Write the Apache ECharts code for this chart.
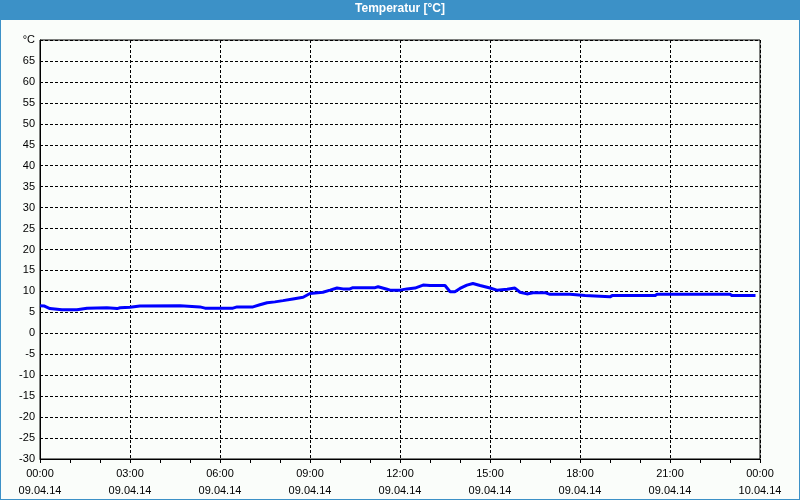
<!DOCTYPE html>
<html>
<head>
<meta charset="utf-8">
<script src="https://cdn.jsdelivr.net/npm/echarts@6/dist/echarts.min.js"></script>
<style>
html,body{margin:0;padding:0;background:#fafdfa;}
#c{width:800px;height:500px;box-sizing:border-box;border:1px solid #3c91c7;border-top:none;}
</style>
</head>
<body>
<div id="c"></div>
<script>
// hours since 09.04.14 00:00
var hours = [0.0,0.15,0.33,0.73,1.23,1.27,1.57,2.23,2.27,2.57,2.67,3.0,3.33,4.67,4.73,5.33,5.5,6.43,6.57,7.1,7.33,7.57,7.83,8.1,8.43,8.77,9.0,9.43,9.67,9.9,10.1,10.33,10.43,11.17,11.27,11.57,11.67,12.0,12.23,12.5,12.77,13.0,13.5,13.67,13.83,14.0,14.23,14.43,14.67,15.0,15.23,15.57,15.83,16.0,16.23,16.43,16.83,17.0,17.67,17.73,18.17,18.23,19.0,19.07,20.5,20.57,23.0,23.07,23.85];
var temps = [6.6,6.5,5.9,5.6,5.6,5.9,6.0,6.1,5.9,5.9,6.1,6.2,6.5,6.6,6.3,6.3,6.0,6.0,6.3,6.3,6.8,7.3,7.5,7.8,8.2,8.6,9.5,9.8,10.3,10.8,10.6,10.6,10.9,10.9,11.1,10.5,10.3,10.3,10.6,10.8,11.5,11.4,11.4,9.9,9.9,10.7,11.5,11.9,11.4,10.8,10.3,10.5,10.8,9.8,9.4,9.7,9.7,9.3,9.3,9.0,9.0,8.7,8.7,9.0,9.0,9.3,9.3,9.0,9.0];
var timeLabels = ["00:00","03:00","06:00","09:00","12:00","15:00","18:00","21:00","00:00"];
var dateLabels = ["09.04.14","09.04.14","09.04.14","09.04.14","09.04.14","09.04.14","09.04.14","09.04.14","10.04.14"];
var titleText = "Temperatur [°C]";
var unitLabel = "°C";

var data = hours.map(function(h,i){return [h,temps[i]];});
var chart = echarts.init(document.getElementById('c'));
var font = '"Liberation Sans", Arial, sans-serif';
chart.setOption({
  animation:false,
  backgroundColor:'#fafdfa',
  graphic:[{type:'rect',left:-1,top:0,shape:{width:800,height:20},style:{fill:'#3c91c7'},z:0}],
  title:{text:titleText,left:'center',top:3,padding:0,
    textStyle:{color:'#fff',fontSize:12,fontWeight:'bold',fontFamily:font}},
  grid:{left:39,right:39,top:40,bottom:38,show:true,borderColor:'#000',borderWidth:1,backgroundColor:'transparent'},
  xAxis:{type:'value',min:0,max:24,interval:3,
    axisLine:{show:true,onZero:false,lineStyle:{color:'#000'}},
    axisTick:{show:true,length:4,lineStyle:{color:'#000'}},
    minorTick:{show:true,splitNumber:3,length:4,lineStyle:{color:'#000'}},
    splitLine:{show:true,lineStyle:{color:'#000',type:[3,2]}},
    axisLabel:{margin:6,color:'#000',fontSize:11,fontFamily:font,lineHeight:17,
      formatter:function(v){var i=Math.round(v/3);return timeLabels[i]+'\n'+dateLabels[i];}}
  },
  yAxis:{type:'value',min:-30,max:70,interval:5,
    axisLine:{show:true,onZero:false,lineStyle:{color:'#000'}},
    axisTick:{show:false},
    splitLine:{show:true,lineStyle:{color:'#000',type:[3,2]}},
    axisLabel:{margin:5,color:'#000',fontSize:11,fontFamily:font,
      formatter:function(v){return v===70?unitLabel:String(v);}}
  },
  series:[{type:'line',data:data,showSymbol:false,lineStyle:{color:'#0000ff',width:3},itemStyle:{color:'#0000ff'}}]
});
</script>
</body>
</html>
